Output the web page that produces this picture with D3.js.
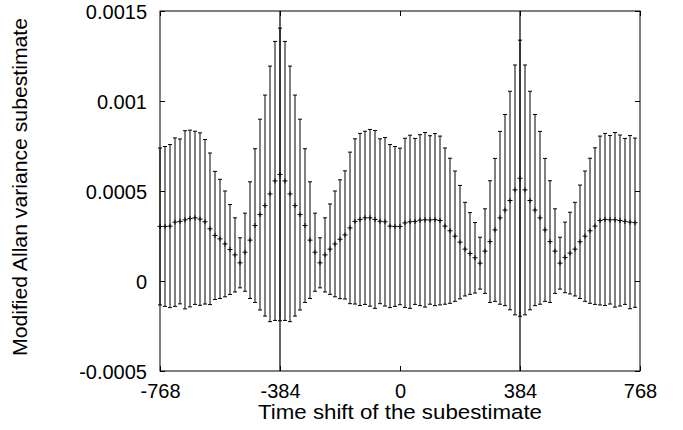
<!DOCTYPE html>
<html>
<head>
<meta charset="utf-8">
<script src="https://cdn.jsdelivr.net/npm/d3@7"></script>
<style>
  html, body { margin: 0; padding: 0; background: #fff; }
  svg { display: block; }
  text { font-family: "Liberation Sans", Arial, sans-serif; fill: #000; }
</style>
</head>
<body>
<div id="chart"></div>
<script>
// time shift of each subestimate
const shifts = [
  -768, -752, -736, -720, -704, -688, -672, -656, -640, -624, -608, -592, -576, -560, -544, -528,
  -512, -496, -480, -464, -448, -432, -416, -400, -384, -368, -352, -336, -320, -304, -288, -272,
  -256, -240, -224, -208, -192, -176, -160, -144, -128, -112, -96, -80, -64, -48, -32, -16,
  0, 16, 32, 48, 64, 80, 96, 112, 128, 144, 160, 176, 192, 208, 224, 240,
  256, 272, 288, 304, 320, 336, 352, 368, 384, 400, 416, 432, 448, 464, 480, 496,
  512, 528, 544, 560, 576, 592, 608, 624, 640, 656, 672, 688, 704, 720, 736, 752
];

// subestimate value (units of 1e-4)
const centers = [
  3.03, 3.03, 3.05, 3.27, 3.31, 3.40, 3.47, 3.51, 3.44, 3.29, 2.90, 2.53, 2.34, 2.06, 1.75, 1.45,
  1.01, 1.60, 2.27, 3.08, 3.69, 4.19, 4.84, 5.56, 5.92, 5.56, 4.84, 4.19, 3.69, 3.08, 2.27, 1.60,
  1.01, 1.45, 1.77, 2.06, 2.32, 2.56, 2.95, 3.31, 3.42, 3.51, 3.51, 3.42, 3.32, 3.29, 3.05, 3.03,
  3.03, 3.23, 3.29, 3.31, 3.38, 3.40, 3.39, 3.41, 3.36, 3.05, 2.79, 2.49, 2.16, 1.77, 1.53, 1.29,
  0.99, 1.66, 2.19, 2.84, 3.51, 3.94, 4.47, 5.06, 5.71, 5.06, 4.47, 3.94, 3.51, 2.84, 2.19, 1.66,
  0.99, 1.31, 1.55, 1.77, 2.18, 2.49, 2.79, 3.05, 3.36, 3.42, 3.40, 3.40, 3.36, 3.31, 3.27, 3.24
];

// half length of each error bar (units of 1e-4)
const errors = [
  4.36, 4.44, 4.53, 4.68, 4.58, 4.95, 4.91, 4.81, 4.79, 4.57, 4.21, 3.56, 3.31, 2.94, 2.50, 2.06,
  1.39, 2.17, 3.24, 4.27, 5.30, 6.14, 7.10, 7.75, 8.13, 7.75, 7.10, 6.14, 5.30, 4.27, 3.24, 2.17,
  1.39, 2.06, 2.51, 2.94, 3.30, 3.56, 4.21, 4.59, 4.78, 4.81, 4.91, 4.94, 4.58, 4.68, 4.53, 4.44,
  4.35, 4.70, 4.81, 4.61, 4.75, 4.85, 4.68, 4.78, 4.69, 4.34, 4.03, 3.62, 3.15, 2.60, 2.27, 1.96,
  1.44, 2.35, 3.38, 3.97, 4.80, 5.31, 6.07, 6.94, 7.67, 6.94, 6.07, 5.31, 4.80, 3.97, 3.38, 2.35,
  1.44, 1.96, 2.27, 2.60, 3.15, 3.62, 4.03, 4.35, 4.69, 4.78, 4.68, 4.85, 4.75, 4.61, 4.81, 4.70
];
const unit = 1e-4;

const xTicks = [-768, -384, 0, 384, 768];
const xTickLabels = ["-768", "-384", "0", "384", "768"];
const yTicks = [-0.0005, 0, 0.0005, 0.001, 0.0015];
const yTickLabels = ["-0.0005", "0", "0.0005", "0.001", "0.0015"];
const markers = [-384, 384];   // vertical lines

const width = 683, height = 430;
const margin = {top: 11, right: 43, bottom: 59, left: 160};
const iw = width - margin.left - margin.right;
const ih = height - margin.top - margin.bottom;

const x = d3.scaleLinear().domain([-768, 768]).range([0, iw]);
const y = d3.scaleLinear().domain([-0.0005, 0.0015]).range([ih, 0]);

const svg = d3.select('#chart').append('svg')
  .attr('width', width).attr('height', height);

const g = svg.append('g').attr('transform', `translate(${margin.left},${margin.top})`);

// ----- axes, ticks pointing inward on all four sides -----
const fontSize = 20;

const xAxis = g.append('g').attr('transform', `translate(0,${ih})`)
  .call(d3.axisBottom(x).tickValues(xTicks).tickSize(-5).tickPadding(13)
    .tickFormat((d, i) => xTickLabels[i]));
const yAxis = g.append('g')
  .call(d3.axisLeft(y).tickValues(yTicks).tickSize(-5).tickPadding(13)
    .tickFormat((d, i) => yTickLabels[i]));
g.append('g')
  .call(d3.axisTop(x).tickValues(xTicks).tickSize(-5).tickFormat(''));
g.append('g').attr('transform', `translate(${iw},0)`)
  .call(d3.axisRight(y).tickValues(yTicks).tickSize(-5).tickFormat(''));

g.selectAll('.domain').remove();
g.selectAll('.tick line').attr('stroke', '#000');
g.selectAll('.tick text').style('font-size', fontSize + 'px').attr('fill', '#000');
yAxis.selectAll('.tick text').attr('dy', '0.35em');

// frame
g.append('rect')
  .attr('x', 0).attr('y', 0).attr('width', iw).attr('height', ih)
  .attr('fill', 'none').attr('stroke', '#000').attr('stroke-width', 1);

// vertical lines
g.selectAll('.marker').data(markers).join('line')
  .attr('class', 'marker')
  .attr('x1', d => x(d)).attr('x2', d => x(d))
  .attr('y1', 0).attr('y2', ih)
  .attr('stroke', '#000').attr('stroke-width', 1.2);

// ----- error bars -----
const points = shifts.map((s, i) => ({
  s, c: centers[i] * unit, lo: (centers[i] - errors[i]) * unit, hi: (centers[i] + errors[i]) * unit
}));

const cap = 2, plus = 2.5;
const bars = g.append('g').attr('stroke', '#000').attr('stroke-width', 1);

bars.selectAll('.bar').data(points).join('line')
  .attr('x1', d => x(d.s)).attr('x2', d => x(d.s))
  .attr('y1', d => y(d.lo)).attr('y2', d => y(d.hi));
bars.selectAll('.capHi').data(points).join('line')
  .attr('x1', d => x(d.s) - cap).attr('x2', d => x(d.s) + cap)
  .attr('y1', d => y(d.hi)).attr('y2', d => y(d.hi));
bars.selectAll('.capLo').data(points).join('line')
  .attr('x1', d => x(d.s) - cap).attr('x2', d => x(d.s) + cap)
  .attr('y1', d => y(d.lo)).attr('y2', d => y(d.lo));
bars.selectAll('.ph').data(points).join('line')
  .attr('x1', d => x(d.s) - plus).attr('x2', d => x(d.s) + plus)
  .attr('y1', d => y(d.c)).attr('y2', d => y(d.c));
bars.selectAll('.pv').data(points).join('line')
  .attr('x1', d => x(d.s)).attr('x2', d => x(d.s))
  .attr('y1', d => y(d.c) - plus).attr('y2', d => y(d.c) + plus);

// ----- axis titles -----
svg.append('text')
  .attr('x', margin.left + iw / 2).attr('y', 419)
  .attr('text-anchor', 'middle')
  .attr('textLength', 284).attr('lengthAdjust', 'spacingAndGlyphs')
  .style('font-size', fontSize + 'px')
  .text('Time shift of the subestimate');

svg.append('text')
  .attr('transform', `translate(27,${margin.top + ih / 2 - 4}) rotate(-90)`)
  .attr('text-anchor', 'middle')
  .attr('textLength', 338).attr('lengthAdjust', 'spacingAndGlyphs')
  .style('font-size', fontSize + 'px')
  .text('Modified Allan variance subestimate');
</script>
</body>
</html>
